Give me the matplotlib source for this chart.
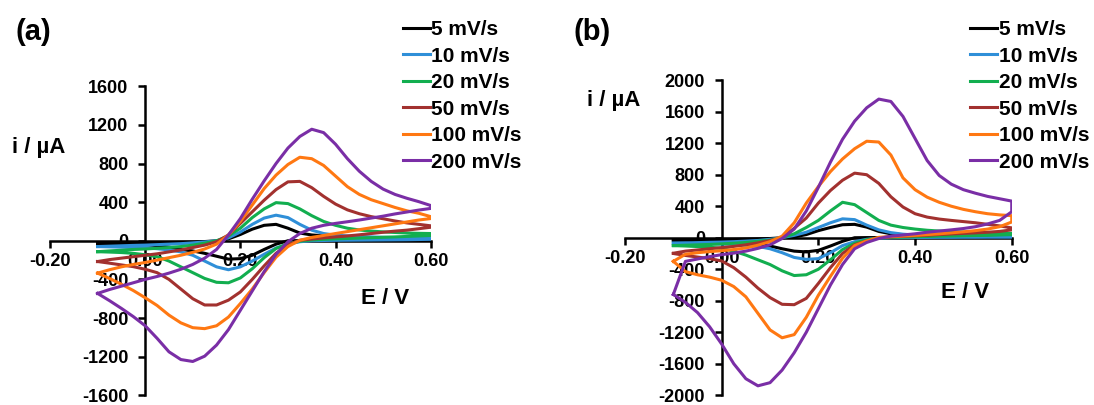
import matplotlib
matplotlib.use("Agg")
import matplotlib.pyplot as plt
from matplotlib.ticker import FormatStrFormatter

plt.rcParams['font.family'] = ['Liberation Sans', 'DejaVu Sans']
plt.rcParams['font.weight'] = 'bold'
plt.rcParams['axes.unicode_minus'] = False

# potential grid (V), used for the forward and the reverse sweep
E = [-0.10, -0.075, -0.05, -0.025, 0.0, 0.025, 0.05, 0.075, 0.10, 0.125, 0.15,
     0.175, 0.20, 0.225, 0.25, 0.275, 0.30, 0.325, 0.35, 0.375, 0.40, 0.425,
     0.45, 0.475, 0.50, 0.525, 0.55, 0.575, 0.60]

labels = ['5 mV/s', '10 mV/s', '20 mV/s', '50 mV/s', '100 mV/s', '200 mV/s']
colors = ['#000000', '#2f8fd8', '#12ae4f', '#a2312f', '#ff7812', '#7a2ea6']

# panel (a) currents (uA), forward (anodic) and reverse (cathodic) sweeps
a_fwd_5 = [-30, -28, -26, -24, -22, -20, -18, -16, -14, -8, 0, 20, 65, 120, 160, 170, 130, 80, 60, 52, 45, 40, 36, 33, 30, 28, 26, 24, 22]
a_rev_5 = [-30, -32, -35, -38, -42, -50, -65, -90, -105, -130, -160, -190, -185, -150, -90, -35, 0, 2, 3, 4, 5, 6, 6, 7, 8, 8, 9, 9, 10]
a_fwd_10 = [-60, -56, -52, -48, -45, -40, -35, -30, -22, -12, 0, 30, 90, 170, 235, 265, 240, 170, 110, 75, 58, 50, 45, 40, 36, 33, 30, 28, 26]
a_rev_10 = [-60, -63, -66, -70, -75, -82, -95, -115, -150, -210, -270, -300, -270, -210, -140, -75, -35, -10, 0, 3, 5, 6, 7, 8, 9, 10, 11, 13, 15]
a_fwd_20 = [-113, -105, -98, -90, -85, -78, -70, -60, -45, -25, 0, 50, 130, 240, 330, 395, 385, 330, 260, 200, 160, 130, 112, 100, 92, 86, 80, 77, 75]
a_rev_20 = [-113, -117, -122, -130, -145, -165, -210, -270, -330, -390, -430, -435, -385, -290, -175, -80, -30, -5, 8, 15, 20, 24, 28, 32, 36, 40, 45, 50, 55]
a_fwd_50 = [-215, -195, -180, -165, -150, -135, -115, -95, -70, -45, -10, 60, 180, 300, 420, 530, 610, 615, 550, 460, 380, 320, 280, 250, 228, 205, 185, 170, 155]
a_rev_50 = [-215, -232, -250, -268, -295, -330, -400, -500, -600, -665, -665, -615, -530, -400, -260, -130, -40, 5, 18, 30, 40, 50, 62, 75, 88, 100, 110, 125, 140]
a_fwd_100 = [-335, -300, -270, -245, -225, -200, -175, -150, -120, -85, -35, 60, 200, 370, 540, 680, 790, 865, 850, 780, 670, 560, 480, 425, 385, 345, 310, 285, 250]
a_rev_100 = [-335, -390, -450, -515, -590, -670, -770, -850, -900, -910, -880, -790, -650, -500, -330, -170, -60, 5, 35, 55, 75, 95, 115, 135, 155, 175, 195, 215, 230]
a_fwd_200 = [-545, -505, -470, -435, -400, -370, -335, -295, -245, -180, -90, 60, 230, 430, 620, 800, 960, 1080, 1155, 1120, 1000, 850, 720, 615, 535, 480, 440, 405, 365]
a_rev_200 = [-545, -620, -700, -785, -880, -1010, -1150, -1230, -1250, -1195, -1080, -920, -720, -520, -320, -140, -10, 75, 130, 160, 180, 197, 215, 235, 255, 278, 298, 318, 335]

# panel (b)
b_fwd_5 = [-30, -28, -26, -24, -22, -20, -17, -14, -10, 0, 10, 40, 90, 130, 165, 170, 135, 80, 50, 38, 30, 27, 25, 23, 20, 18, 16, 14, 12]
b_rev_5 = [-30, -32, -34, -37, -40, -48, -60, -80, -105, -140, -170, -180, -160, -105, -45, 0, 2, 2, 3, 3, 3, 4, 4, 4, 4, 5, 5, 5, 5]
b_fwd_10 = [-70, -66, -62, -58, -55, -50, -43, -35, -20, 0, 30, 70, 130, 190, 240, 230, 160, 100, 65, 45, 35, 31, 28, 25, 22, 20, 18, 16, 15]
b_rev_10 = [-70, -72, -75, -77, -80, -85, -95, -110, -140, -190, -250, -275, -265, -190, -100, -50, -20, -5, 0, 2, 3, 4, 5, 5, 6, 6, 7, 7, 8]
b_fwd_20 = [-100, -95, -90, -85, -78, -70, -60, -45, -30, 0, 50, 130, 220, 340, 450, 420, 320, 220, 160, 130, 110, 95, 85, 78, 72, 68, 64, 60, 55]
b_rev_20 = [-100, -105, -112, -120, -135, -170, -220, -280, -340, -420, -480, -470, -400, -280, -150, -70, -25, -5, 3, 8, 12, 16, 20, 22, 25, 28, 30, 35, 40]
b_fwd_50 = [-197, -170, -155, -140, -125, -110, -90, -65, -35, 0, 120, 250, 440, 600, 730, 820, 800, 690, 520, 390, 305, 262, 237, 220, 205, 190, 170, 150, 125]
b_rev_50 = [-200, -225, -245, -265, -295, -380, -500, -640, -760, -845, -850, -770, -580, -380, -200, -90, -40, 0, 10, 18, 25, 32, 40, 48, 55, 62, 70, 80, 100]
b_fwd_100 = [-300, -210, -190, -176, -165, -150, -130, -95, -50, 20, 190, 440, 650, 840, 1000, 1130, 1225, 1215, 1050, 760, 610, 515, 450, 400, 360, 330, 305, 290, 280]
b_rev_100 = [-300, -430, -470, -500, -540, -620, -750, -960, -1170, -1270, -1230, -1010, -730, -490, -260, -100, -40, 5, 15, 22, 30, 40, 50, 62, 75, 90, 110, 140, 200]
b_fwd_200 = [-720, -300, -270, -240, -215, -195, -170, -135, -90, -10, 110, 340, 640, 960, 1250, 1480, 1650, 1760, 1730, 1540, 1260, 980, 790, 680, 610, 565, 525, 495, 465]
b_rev_200 = [-720, -820, -950, -1130, -1350, -1600, -1790, -1880, -1840, -1680, -1460, -1200, -900, -600, -340, -140, -60, -10, 20, 35, 50, 70, 85, 100, 117, 140, 175, 220, 330]

a_fwd = [a_fwd_5, a_fwd_10, a_fwd_20, a_fwd_50, a_fwd_100, a_fwd_200]
a_rev = [a_rev_5, a_rev_10, a_rev_20, a_rev_50, a_rev_100, a_rev_200]
b_fwd = [b_fwd_5, b_fwd_10, b_fwd_20, b_fwd_50, b_fwd_100, b_fwd_200]
b_rev = [b_rev_5, b_rev_10, b_rev_20, b_rev_50, b_rev_100, b_rev_200]

fig = plt.figure(figsize=(10.94, 4.05), dpi=100)
ax_a = fig.add_axes([0.0457, 0.024, 0.348, 0.763])
ax_b = fig.add_axes([0.5713, 0.024, 0.3535, 0.778])


def draw(ax, fwd, rev, ylim, leg_x):
    loop_E = E + E[::-1]
    lines = []
    for f, r, lab, c in zip(fwd, rev, labels, colors):
        ln, = ax.plot(loop_E, f + r[::-1], color=c, lw=2.2, label=lab,
                      solid_joinstyle='round')
        lines.append(ln)
    ax.set_xlim(-0.2, 0.6)
    ax.set_ylim(-ylim, ylim)
    ax.set_xticks([-0.2, 0.0, 0.2, 0.4, 0.6])
    ax.set_yticks(list(range(-ylim, ylim + 1, 400)))
    ax.xaxis.set_major_formatter(FormatStrFormatter('%.2f'))
    for side in ['top', 'right']:
        ax.spines[side].set_visible(False)
    ax.spines['left'].set_position(('data', 0))
    ax.spines['bottom'].set_position(('data', 0))
    for side in ['left', 'bottom']:
        ax.spines[side].set_linewidth(1.8)
        ax.spines[side].set_zorder(0.5)
    ax.tick_params(axis='x', direction='out', length=5, width=1.8, pad=4,
                   labelsize=13)
    ax.tick_params(axis='y', direction='out', length=5, width=1.8, pad=7,
                   labelsize=13)
    for t in ax.get_xticklabels() + ax.get_yticklabels():
        t.set_fontweight('bold')
    ax.patch.set_alpha(0)
    fig.legend(handles=lines, loc='upper left', bbox_to_anchor=(leg_x, 0.95),
               frameon=False, prop={'size': 15, 'weight': 'bold'},
               handlelength=1.3, handletextpad=0.05, labelspacing=0.36,
               borderpad=0, borderaxespad=0)


draw(ax_a, a_fwd, a_rev, 1600, 0.368)
draw(ax_b, b_fwd, b_rev, 2000, 0.887)

fig.text(0.011, 0.635, 'i / µA', fontsize=16, fontweight='bold', ha='left', va='center')
fig.text(0.537, 0.753, 'i / µA', fontsize=16, fontweight='bold', ha='left', va='center')
fig.text(0.330, 0.264, 'E / V', fontsize=16, fontweight='bold', ha='left', va='center')
fig.text(0.860, 0.279, 'E / V', fontsize=16, fontweight='bold', ha='left', va='center')
fig.text(0.0146, 0.921, '(a)', fontsize=21, fontweight='bold', ha='left', va='center')
fig.text(0.524, 0.921, '(b)', fontsize=21, fontweight='bold', ha='left', va='center')

fig.savefig('out.png', dpi=100)
